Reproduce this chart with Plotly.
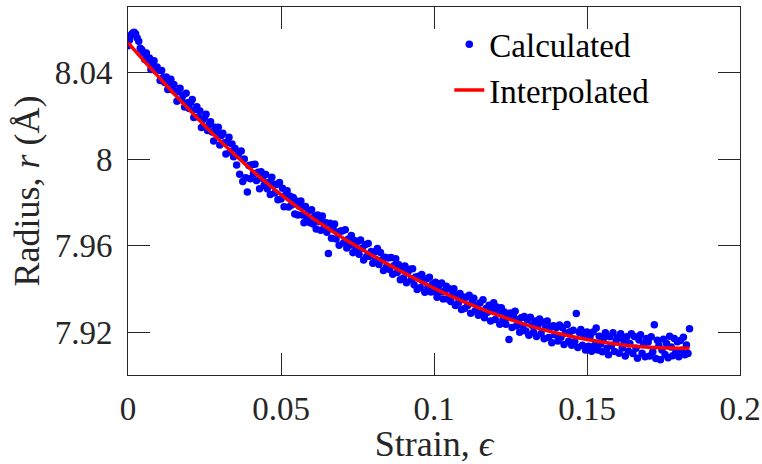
import plotly.graph_objects as go

# Calculated points (strain, radius in Å)
calc_strain = [
    0.0000, 0.0005, 0.0010, 0.0015, 0.0020, 0.0025, 0.0030, 0.0035, 0.0040, 0.0045,
    0.0050, 0.0055, 0.0060, 0.0065, 0.0070, 0.0075, 0.0080, 0.0085, 0.0090, 0.0095,
    0.0100, 0.0105, 0.0110, 0.0115, 0.0120, 0.0125, 0.0130, 0.0135, 0.0140, 0.0145,
    0.0150, 0.0155, 0.0160, 0.0165, 0.0170, 0.0175, 0.0180, 0.0185, 0.0190, 0.0195,
    0.0200, 0.0205, 0.0210, 0.0215, 0.0220, 0.0225, 0.0230, 0.0235, 0.0240, 0.0245,
    0.0250, 0.0255, 0.0260, 0.0265, 0.0270, 0.0275, 0.0280, 0.0285, 0.0290, 0.0295,
    0.0300, 0.0305, 0.0310, 0.0315, 0.0320, 0.0325, 0.0330, 0.0335, 0.0340, 0.0345,
    0.0350, 0.0355, 0.0360, 0.0365, 0.0370, 0.0375, 0.0380, 0.0385, 0.0390, 0.0395,
    0.0400, 0.0405, 0.0410, 0.0415, 0.0420, 0.0425, 0.0430, 0.0435, 0.0440, 0.0445,
    0.0450, 0.0455, 0.0460, 0.0465, 0.0470, 0.0475, 0.0480, 0.0485, 0.0490, 0.0495,
    0.0500, 0.0505, 0.0510, 0.0515, 0.0520, 0.0525, 0.0530, 0.0535, 0.0540, 0.0545,
    0.0550, 0.0555, 0.0560, 0.0565, 0.0570, 0.0575, 0.0580, 0.0585, 0.0590, 0.0595,
    0.0600, 0.0605, 0.0610, 0.0615, 0.0620, 0.0625, 0.0630, 0.0635, 0.0640, 0.0645,
    0.0650, 0.0655, 0.0660, 0.0665, 0.0670, 0.0675, 0.0680, 0.0685, 0.0690, 0.0695,
    0.0700, 0.0705, 0.0710, 0.0715, 0.0720, 0.0725, 0.0730, 0.0735, 0.0740, 0.0745,
    0.0750, 0.0755, 0.0760, 0.0765, 0.0770, 0.0775, 0.0780, 0.0785, 0.0790, 0.0795,
    0.0800, 0.0805, 0.0810, 0.0815, 0.0820, 0.0825, 0.0830, 0.0835, 0.0840, 0.0845,
    0.0850, 0.0855, 0.0860, 0.0865, 0.0870, 0.0875, 0.0880, 0.0885, 0.0890, 0.0895,
    0.0900, 0.0905, 0.0910, 0.0915, 0.0920, 0.0925, 0.0930, 0.0935, 0.0940, 0.0945,
    0.0950, 0.0955, 0.0960, 0.0965, 0.0970, 0.0975, 0.0980, 0.0985, 0.0990, 0.0995,
    0.1000, 0.1005, 0.1010, 0.1015, 0.1020, 0.1025, 0.1030, 0.1035, 0.1040, 0.1045,
    0.1050, 0.1055, 0.1060, 0.1065, 0.1070, 0.1075, 0.1080, 0.1085, 0.1090, 0.1095,
    0.1100, 0.1105, 0.1110, 0.1115, 0.1120, 0.1125, 0.1130, 0.1135, 0.1140, 0.1145,
    0.1150, 0.1155, 0.1160, 0.1165, 0.1170, 0.1175, 0.1180, 0.1185, 0.1190, 0.1195,
    0.1200, 0.1205, 0.1210, 0.1215, 0.1220, 0.1225, 0.1230, 0.1235, 0.1240, 0.1245,
    0.1250, 0.1255, 0.1260, 0.1265, 0.1270, 0.1275, 0.1280, 0.1285, 0.1290, 0.1295,
    0.1300, 0.1305, 0.1310, 0.1315, 0.1320, 0.1325, 0.1330, 0.1335, 0.1340, 0.1345,
    0.1350, 0.1355, 0.1360, 0.1365, 0.1370, 0.1375, 0.1380, 0.1385, 0.1390, 0.1395,
    0.1400, 0.1405, 0.1410, 0.1415, 0.1420, 0.1425, 0.1430, 0.1435, 0.1440, 0.1445,
    0.1450, 0.1455, 0.1460, 0.1465, 0.1470, 0.1475, 0.1480, 0.1485, 0.1490, 0.1495,
    0.1500, 0.1505, 0.1510, 0.1515, 0.1520, 0.1525, 0.1530, 0.1535, 0.1540, 0.1545,
    0.1550, 0.1555, 0.1560, 0.1565, 0.1570, 0.1575, 0.1580, 0.1585, 0.1590, 0.1595,
    0.1600, 0.1605, 0.1610, 0.1615, 0.1620, 0.1625, 0.1630, 0.1635, 0.1640, 0.1645,
    0.1650, 0.1655, 0.1660, 0.1665, 0.1670, 0.1675, 0.1680, 0.1685, 0.1690, 0.1695,
    0.1700, 0.1705, 0.1710, 0.1715, 0.1720, 0.1725, 0.1730, 0.1735, 0.1740, 0.1745,
    0.1750, 0.1755, 0.1760, 0.1765, 0.1770, 0.1775, 0.1780, 0.1785, 0.1790, 0.1795,
    0.1800, 0.1805, 0.1810, 0.1815, 0.1820, 0.1825, 0.1830, 0.1835,
]
calc_radius = [
    8.0524, 8.0550, 8.0574, 8.0582, 8.0586, 8.0578, 8.0560, 8.0545, 8.0512, 8.0506,
    8.0493, 8.0460, 8.0490, 8.0459, 8.0467, 8.0414, 8.0441, 8.0455, 8.0410, 8.0426,
    8.0410, 8.0364, 8.0410, 8.0377, 8.0354, 8.0380, 8.0322, 8.0354, 8.0369, 8.0321,
    8.0345, 8.0311, 8.0268, 8.0311, 8.0328, 8.0274, 8.0294, 8.0241, 8.0304, 8.0261,
    8.0234, 8.0262, 8.0276, 8.0192, 8.0230, 8.0242, 8.0195, 8.0223, 8.0146, 8.0183,
    8.0191, 8.0207, 8.0132, 8.0160, 8.0173, 8.0126, 8.0084, 8.0147, 8.0120, 8.0148,
    8.0066, 8.0109, 8.0120, 8.0076, 8.0024, 8.0077, 8.0101, 8.0034, 8.0070, 8.0011,
    8.0049, 7.9973, 8.0021, 7.9930, 8.0038, 7.9897, 8.0001, 7.9914, 7.9848, 7.9971,
    7.9910, 7.9974, 7.9933, 7.9977, 7.9901, 7.9940, 7.9863, 7.9942, 7.9911, 7.9880,
    7.9929, 7.9863, 7.9892, 7.9837, 7.9916, 7.9885, 7.9844, 7.9883, 7.9813, 7.9892,
    7.9816, 7.9866, 7.9780, 7.9835, 7.9854, 7.9779, 7.9829, 7.9788, 7.9823, 7.9747,
    7.9807, 7.9742, 7.9782, 7.9807, 7.9742, 7.9706, 7.9781, 7.9731, 7.9761, 7.9706,
    7.9766, 7.9701, 7.9736, 7.9677, 7.9742, 7.9712, 7.9672, 7.9737, 7.9677, 7.9708,
    7.9663, 7.9564, 7.9704, 7.9635, 7.9680, 7.9701, 7.9631, 7.9662, 7.9602, 7.9668,
    7.9668, 7.9614, 7.9674, 7.9590, 7.9631, 7.9602, 7.9647, 7.9568, 7.9624, 7.9589,
    7.9620, 7.9561, 7.9627, 7.9588, 7.9534, 7.9605, 7.9550, 7.9611, 7.9552, 7.9573,
    7.9519, 7.9570, 7.9536, 7.9587, 7.9513, 7.9569, 7.9535, 7.9486, 7.9547, 7.9503,
    7.9544, 7.9490, 7.9546, 7.9468, 7.9509, 7.9540, 7.9476, 7.9512, 7.9443, 7.9495,
    7.9451, 7.9507, 7.9429, 7.9480, 7.9491, 7.9443, 7.9494, 7.9420, 7.9456, 7.9398,
    7.9459, 7.9406, 7.9467, 7.9434, 7.9385, 7.9447, 7.9408, 7.9455, 7.9386, 7.9423,
    7.9389, 7.9431, 7.9362, 7.9414, 7.9386, 7.9428, 7.9354, 7.9391, 7.9413, 7.9354,
    7.9401, 7.9343, 7.9375, 7.9402, 7.9324, 7.9371, 7.9337, 7.9379, 7.9306, 7.9363,
    7.9310, 7.9362, 7.9324, 7.9371, 7.9288, 7.9341, 7.9358, 7.9300, 7.9322, 7.9279,
    7.9336, 7.9288, 7.9351, 7.9268, 7.9310, 7.9293, 7.9325, 7.9252, 7.9309, 7.9337,
    7.9259, 7.9317, 7.9294, 7.9237, 7.9314, 7.9257, 7.9294, 7.9237, 7.9269, 7.9167,
    7.9289, 7.9222, 7.9274, 7.9297, 7.9230, 7.9258, 7.9200, 7.9268, 7.9231, 7.9273,
    7.9206, 7.9259, 7.9187, 7.9270, 7.9233, 7.9201, 7.9253, 7.9181, 7.9234, 7.9262,
    7.9195, 7.9248, 7.9171, 7.9220, 7.9253, 7.9176, 7.9224, 7.9152, 7.9231, 7.9189,
    7.9222, 7.9160, 7.9234, 7.9177, 7.9221, 7.9144, 7.9197, 7.9236, 7.9159, 7.9203,
    7.9141, 7.9210, 7.9158, 7.9287, 7.9130, 7.9199, 7.9213, 7.9141, 7.9185, 7.9118,
    7.9202, 7.9136, 7.9180, 7.9113, 7.9202, 7.9141, 7.9220, 7.9119, 7.9182, 7.9146,
    7.9110, 7.9174, 7.9198, 7.9127, 7.9096, 7.9180, 7.9139, 7.9198, 7.9112, 7.9161,
    7.9175, 7.9104, 7.9193, 7.9128, 7.9162, 7.9091, 7.9180, 7.9114, 7.9149, 7.9193,
    7.9102, 7.9181, 7.9126, 7.9080, 7.9165, 7.9189, 7.9103, 7.9148, 7.9087, 7.9172,
    7.9156, 7.9091, 7.9180, 7.9110, 7.9235, 7.9079, 7.9164, 7.9139, 7.9073, 7.9118,
    7.9168, 7.9098, 7.9148, 7.9083, 7.9182, 7.9132, 7.9092, 7.9172, 7.9107, 7.9157,
    7.9087, 7.9162, 7.9117, 7.9177, 7.9097, 7.9142, 7.9102, 7.9217,
]

# Interpolated curve
interp_strain = [0.000, 0.005, 0.010, 0.015, 0.020, 0.025, 0.030, 0.035, 0.040, 0.045,
                 0.050, 0.055, 0.060, 0.065, 0.070, 0.075, 0.080, 0.085, 0.090, 0.095,
                 0.100, 0.105, 0.110, 0.115, 0.120, 0.125, 0.130, 0.135, 0.140, 0.145,
                 0.150, 0.155, 0.160, 0.165, 0.170, 0.175, 0.180, 0.1835]
interp_radius = [8.0538, 8.0458, 8.0380, 8.0303, 8.0229, 8.0156, 8.0086, 8.0019, 7.9955, 7.9894,
                 7.9836, 7.9782, 7.9731, 7.9683, 7.9638, 7.9595, 7.9554, 7.9514, 7.9476, 7.9439,
                 7.9404, 7.9371, 7.9340, 7.9311, 7.9284, 7.9259, 7.9236, 7.9215, 7.9197, 7.9181,
                 7.9167, 7.9155, 7.9145, 7.9137, 7.9131, 7.9128, 7.9127, 7.9127]

x_tickvals = [0, 0.05, 0.1, 0.15, 0.2]
x_ticktext = ["0", "0.05", "0.1", "0.15", "0.2"]
y_tickvals = [7.92, 7.96, 8.0, 8.04]
y_ticktext = ["7.92", "7.96", "8", "8.04"]

FONT = "Liberation Serif, Times New Roman, serif"
AX = "#262626"

fig = go.Figure()
fig.add_trace(go.Scatter(
    x=calc_strain, y=calc_radius, mode="markers", name="Calculated",
    marker=dict(color="#0000ff", size=7.5, line=dict(width=0)),
))
fig.add_trace(go.Scatter(
    x=interp_strain, y=interp_radius, mode="lines", name="Interpolated",
    line=dict(color="#ff0000", width=3.5, shape="spline", smoothing=0.6),
))

axis_common = dict(
    showline=True, linecolor=AX, linewidth=1, mirror="ticks",
    ticks="inside", ticklen=22, tickwidth=1, tickcolor=AX,
    showgrid=False, zeroline=False, automargin=False,
    tickfont=dict(family=FONT, size=33, color=AX),
)

fig.update_layout(
    width=762, height=464,
    margin=dict(l=128, r=22, t=7, b=89),
    paper_bgcolor="white", plot_bgcolor="white",
    font=dict(family=FONT, color=AX),
    showlegend=True,
    legend=dict(
        x=0.525, y=0.975, xanchor="left", yanchor="top",
        bgcolor="rgba(0,0,0,0)", borderwidth=0,
        font=dict(family=FONT, size=33, color="black"),
        tracegroupgap=0, itemwidth=30,
    ),
    xaxis=dict(
        range=[0, 0.2], tickvals=x_tickvals, ticktext=x_ticktext,
        ticklabelstandoff=4,
        title=dict(text="Strain, <i>ϵ</i>", font=dict(family=FONT, size=36, color=AX), standoff=0),
        **axis_common,
    ),
    yaxis=dict(
        range=[7.9003, 8.0703], tickvals=y_tickvals, ticktext=y_ticktext,
        ticklabelstandoff=8,
        title=dict(text="Radius, <i>r</i> (Å)", font=dict(family=FONT, size=36, color=AX), standoff=4),
        **axis_common,
    ),
)

fig.write_html(
    "out.html",
    config={"displayModeBar": False},
    post_script="document.body.style.margin='0';document.body.style.padding='0';",
)
